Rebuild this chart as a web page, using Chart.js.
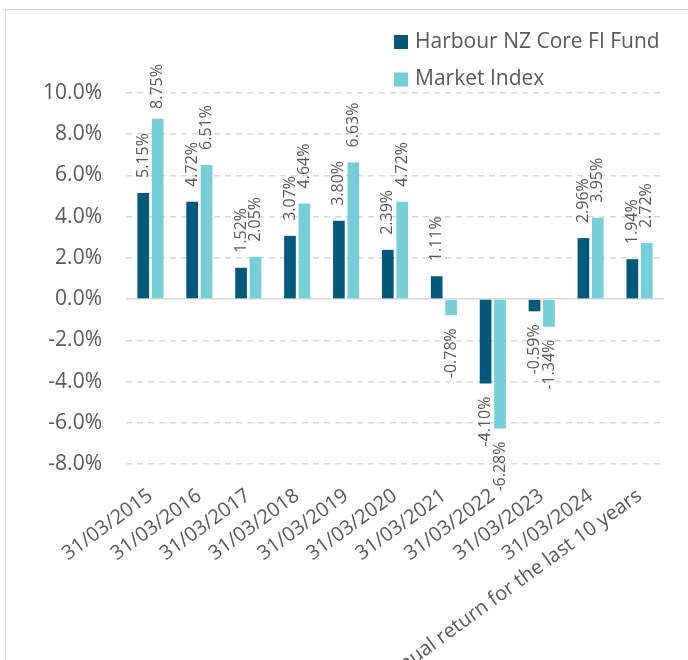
<!DOCTYPE html>
<html>
<head>
<meta charset="utf-8">
<title>Annual returns</title>
<script src="https://cdn.jsdelivr.net/npm/chart.js@4.4.0/dist/chart.umd.min.js"></script>
<style>
    html, body { margin: 0; padding: 0; background: #fff; overflow: hidden; }
    .frame { position: absolute; left: 5px; top: 9px; width: 720px; height: 700px; border: 1px solid #d9d9d9; }
    .chart-box { position: absolute; left: 0; top: 0; width: 688px; height: 660px; }
</style>
</head>
<body>
<div class="frame"></div>
<div class="chart-box"><canvas id="returnsChart"></canvas></div>
<script>
// Chart data
const categories = [
    '31/03/2015', '31/03/2016', '31/03/2017', '31/03/2018', '31/03/2019',
    '31/03/2020', '31/03/2021', '31/03/2022', '31/03/2023', '31/03/2024',
    'Annual return for the last 10 years'
];
const fundReturns = [5.15, 4.72, 1.52, 3.07, 3.80, 2.39, 1.11, -4.10, -0.59, 2.96, 1.94];
const indexReturns = [8.75, 6.51, 2.05, 4.64, 6.63, 4.72, -0.78, -6.28, -1.34, 3.95, 2.72];
const seriesNames = ['Harbour NZ Core FI Fund', 'Market Index'];
const yMin = -8;
const yMax = 10;
const yStep = 2;

const FONT = '"Open Sans", "Noto Sans", sans-serif';
const TEXT_GREY = '#595959';
const GRID_GREY = '#d9d9d9';
const DARK = '#03597a';
const LIGHT = '#76ced8';

// Vertical value labels above / below each bar
const barLabels = {
    id: 'barLabels',
    afterDatasetsDraw(chart) {
        const ctx = chart.ctx;
        ctx.save();
        ctx.font = '16px ' + FONT;
        ctx.fillStyle = TEXT_GREY;
        ctx.textBaseline = 'middle';
        chart.data.datasets.forEach((ds, i) => {
            chart.getDatasetMeta(i).data.forEach((bar, j) => {
                const v = ds.data[j];
                const text = v.toFixed(2) + '%';
                const w = ctx.measureText(text).width;
                ctx.save();
                ctx.translate(bar.x, bar.y);
                ctx.rotate(-Math.PI / 2);
                if (v >= 0) {
                    // keep label inside the chart frame
                    const gap = Math.min(15, bar.y - w - 64);
                    ctx.textAlign = 'left';
                    ctx.fillText(text, gap, 0);
                } else {
                    ctx.textAlign = 'right';
                    ctx.fillText(text, -13, 0);
                }
                ctx.restore();
            });
        });
        ctx.restore();
    }
};

// Stacked legend in the top right corner
const stackedLegend = {
    id: 'stackedLegend',
    afterDraw(chart) {
        const ctx = chart.ctx;
        ctx.save();
        ctx.font = '21px ' + FONT;
        ctx.textBaseline = 'middle';
        ctx.textAlign = 'left';
        chart.data.datasets.forEach((ds, i) => {
            const top = 35 + i * 37.5;
            ctx.fillStyle = ds.backgroundColor;
            ctx.fillRect(394, top, 14, 14);
            ctx.fillStyle = TEXT_GREY;
            ctx.fillText(ds.label, 415, top + 7);
        });
        ctx.restore();
    }
};

const ctx = document.getElementById('returnsChart');
new Chart(ctx, {
    type: 'bar',
    data: {
        labels: categories,
        datasets: [{
            label: seriesNames[0],
            data: fundReturns,
            backgroundColor: DARK,
            categoryPercentage: 0.59,
            barPercentage: 0.81
        }, {
            label: seriesNames[1],
            data: indexReturns,
            backgroundColor: LIGHT,
            categoryPercentage: 0.59,
            barPercentage: 0.81
        }]
    },
    options: {
        responsive: true,
        maintainAspectRatio: false,
        animation: false,
        layout: {
            padding: { top: 93, right: 24, bottom: 0, left: 0 }
        },
        plugins: {
            legend: { display: false },
            tooltip: { enabled: false }
        },
        scales: {
            x: {
                grid: { display: false },
                border: { display: false },
                ticks: {
                    autoSkip: false,
                    minRotation: 36,
                    maxRotation: 36,
                    padding: 12,
                    color: TEXT_GREY,
                    font: { family: FONT, size: 20 }
                },
                afterFit(scale) {
                    scale.height = 196;
                }
            },
            y: {
                min: yMin,
                max: yMax,
                ticks: {
                    stepSize: yStep,
                    padding: 24,
                    color: TEXT_GREY,
                    font: { family: FONT, size: 21 },
                    callback: function(value) {
                        return value.toFixed(1) + '%';
                    }
                },
                grid: {
                    color: GRID_GREY,
                    lineWidth: 1.5,
                    drawTicks: false
                },
                border: {
                    display: false,
                    dash: function(context) {
                        return context.tick && context.tick.value === 0 ? [] : [6, 5];
                    }
                },
                afterFit(scale) {
                    scale.width = 126;
                }
            }
        }
    },
    plugins: [barLabels, stackedLegend]
});
</script>
</body>
</html>
